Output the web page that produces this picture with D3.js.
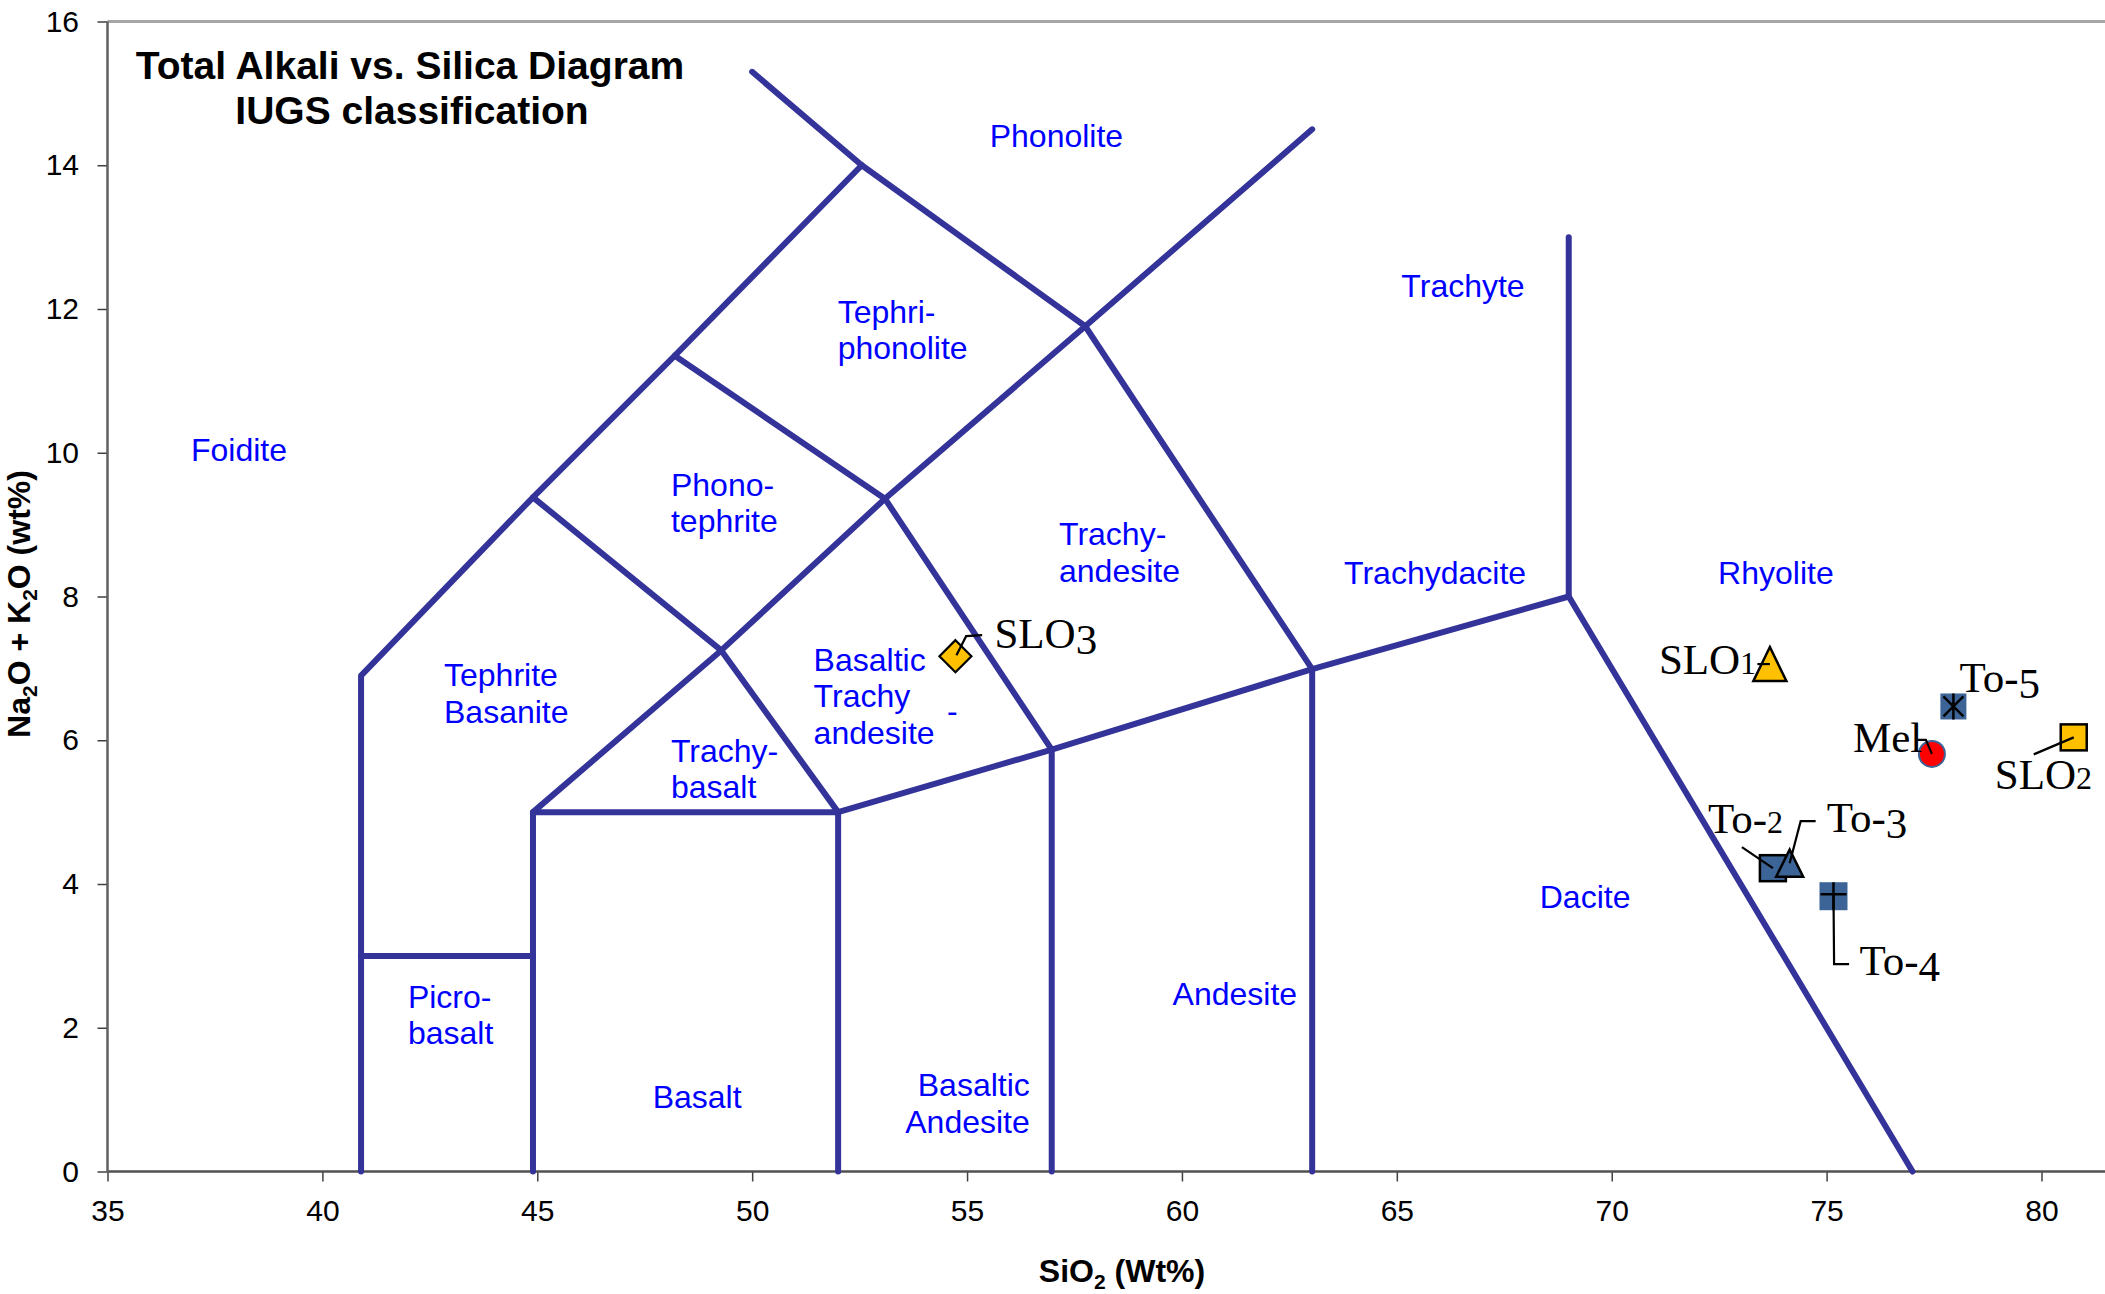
<!DOCTYPE html>
<html>
<head>
<meta charset="utf-8">
<script src="https://cdn.jsdelivr.net/npm/d3@7/dist/d3.min.js"></script>
<style>
  html, body { margin: 0; padding: 0; background: #fff; }
  svg { display: block; }
</style>
</head>
<body>
<svg id="chart" width="2105" height="1294"></svg>
<script>
// ---------------- DATA ----------------
const xTicks = [35, 40, 45, 50, 55, 60, 65, 70, 75, 80];
const yTicks = [0, 2, 4, 6, 8, 10, 12, 14, 16];

// TAS classification boundaries (SiO2, Na2O+K2O)
const boundaries = [
  [[40.9, 0], [40.9, 6.9], [44.9, 9.38], [48.2, 11.35], [52.55, 14.0]],
  [[40.9, 3], [44.9, 3]],
  [[44.9, 0], [44.9, 5], [52, 5], [52, 0]],
  [[52, 5], [56.97, 5.87], [63.03, 6.99], [69, 8], [77, 0]],
  [[69, 8], [69, 13]],
  [[56.97, 0], [56.97, 5.87]],
  [[63.03, 0], [63.03, 6.99]],
  [[44.9, 5], [49.28, 7.25], [53.09, 9.36], [57.75, 11.76], [63.03, 14.5]],
  [[44.9, 9.38], [49.28, 7.25], [52, 5]],
  [[48.2, 11.35], [53.09, 9.36], [56.97, 5.87]],
  [[50, 15.3], [52.55, 14.0], [57.75, 11.76], [63.03, 6.99]]
];

// Field names and their anchor (SiO2, alkali)
const fieldNames = [
  ["Phonolite"], ["Tephri-", "phonolite"], ["Foidite"], ["Phono-", "tephrite"],
  ["Trachy-", "andesite"], ["Trachyte"], ["Trachydacite"], ["Rhyolite"],
  ["Tephrite", "Basanite"], ["Basaltic", "Trachy", "andesite"], ["-"],
  ["Trachy-", "basalt"], ["Dacite"], ["Andesite"], ["Picro-", "basalt"],
  ["Basaltic", "Andesite"], ["Basalt"]
];
const fieldX = [57.08, 51.99, 38.06, 48.11, 57.14, 66.54, 65.89, 73.82, 42.83, 51.43, 54.66, 48.11, 69.38, 61.23, 41.99, 56.46, 48.72];
const fieldY = [14.25, 11.81, 9.89, 9.40, 8.71, 12.17, 8.17, 8.17, 6.75, 6.97, 6.26, 5.70, 3.67, 2.32, 2.28, 1.05, 0.88];
const fieldAnchor = ["middle", "start", "middle", "start", "start", "middle", "middle", "middle", "start", "start", "middle", "start", "middle", "middle", "start", "end", "middle"];

// Samples
const sampleNames = ["SLO3", "SLO1", "SLO2", "Mel", "To-2", "To-3", "To-4", "To-5"];
const sio2 = [54.73, 73.68, 80.75, 77.45, 73.75, 74.14, 75.16, 77.95];
const alkali = [7.17, 7.06, 6.04, 5.81, 4.22, 4.29, 3.83, 6.47];
const symbols = ["diamond", "triangle", "square", "circle", "square", "triangle", "squarePlus", "squareStar"];
const groups = ["SLO", "SLO", "SLO", "Mel", "To", "To", "To", "To"];

// ---------------- LAYOUT / STYLE ----------------
const W = 2105, H = 1294;
const x = d3.scaleLinear().domain([35, 80]).range([107.5, 2041.5]);
const y = d3.scaleLinear().domain([0, 16]).range([1171.5, 21.5]);
const lineColor = "#333399";
const orange = "#FFC000", blue = "#3C6496";
const fillOf = { SLO: orange, Mel: "#FF0000", To: blue };

// label offsets (px) and leader polylines relative to marker centre
const labelLayout = {
  "SLO3": { dx: 39, dy: -8, leader: [[1, -1], [10.7, -20], [26.7, -21]] },
  "SLO1": { dx: -111, dy: 10, leader: [[-12.5, 0], [0, 0]] },
  "SLO2": { dx: -79, dy: 52, leader: [[-40, 17], [0, 0]] },
  "Mel":  { dx: -79, dy: -2, leader: [[-16, -14], [-6, -14], [0, 0]] },
  "To-2": { dx: -65, dy: -35, leader: [[-31, -21], [0, 0]] },
  "To-3": { dx: 37, dy: -31, leader: [[0, 0], [11, -42], [26, -42]] },
  "To-4": { dx: 26, dy: 79, leader: [[0, -2], [0.6, 68], [15.6, 68]] },
  "To-5": { dx: 6, dy: -14, leader: [] }
};

const svg = d3.select("#chart");
svg.append("rect").attr("width", W).attr("height", H).attr("fill", "#fff");

// plot frame (top border)
svg.append("line")
  .attr("x1", x(35)).attr("x2", W).attr("y1", y(16)).attr("y2", y(16))
  .attr("stroke", "#a6a6a6").attr("stroke-width", 3);

// axes
const axisFont = "'Liberation Sans', Arial, sans-serif";
const gx = svg.append("g").attr("transform", `translate(0,${y(0)})`)
  .call(d3.axisBottom(x).tickValues(xTicks).tickSize(10).tickPadding(17.7).tickSizeOuter(0));
const gy = svg.append("g").attr("transform", `translate(${x(35)},0)`)
  .call(d3.axisLeft(y).tickValues(yTicks).tickSize(10).tickPadding(18.5).tickSizeOuter(0));
[gx, gy].forEach(g => {
  g.select(".domain").remove();
  g.selectAll(".tick line").attr("stroke", "#404040").attr("stroke-width", 1.5);
  g.selectAll(".tick text").attr("fill", "#000").style("font-family", axisFont).style("font-size", "30px");
});
svg.append("line").attr("x1", x(35)).attr("x2", W).attr("y1", y(0)).attr("y2", y(0))
  .attr("stroke", "#505050").attr("stroke-width", 2.5);
svg.append("line").attr("x1", x(35)).attr("x2", x(35)).attr("y1", y(16)).attr("y2", y(0))
  .attr("stroke", "#606060").attr("stroke-width", 2.5);

// axis titles
const xt = svg.append("text").attr("x", 1122).attr("y", 1282).attr("text-anchor", "middle")
  .style("font-family", axisFont).style("font-size", "32px").style("font-weight", "bold");
xt.append("tspan").text("SiO");
xt.append("tspan").text("2").attr("dy", 7).style("font-size", "21px");
xt.append("tspan").text(" (Wt%)").attr("dy", -7);

const yt = svg.append("text").attr("transform", "translate(30,604) rotate(-90)").attr("text-anchor", "middle")
  .style("font-family", axisFont).style("font-size", "32px").style("font-weight", "bold");
yt.append("tspan").text("Na");
yt.append("tspan").text("2").attr("dy", 7).style("font-size", "21px");
yt.append("tspan").text("O + K").attr("dy", -7);
yt.append("tspan").text("2").attr("dy", 7).style("font-size", "21px");
yt.append("tspan").text("O (wt%)").attr("dy", -7);

// chart title
const title = svg.append("text").attr("text-anchor", "middle")
  .style("font-family", axisFont).style("font-size", "39px").style("font-weight", "bold").attr("fill", "#000");
title.append("tspan").attr("x", 410).attr("y", 79).text("Total Alkali vs. Silica Diagram");
title.append("tspan").attr("x", 412).attr("y", 124).text("IUGS classification");

// boundaries
const lineGen = d3.line().x(d => x(d[0])).y(d => y(d[1]));
svg.append("g").selectAll("path").data(boundaries).join("path")
  .attr("d", lineGen).attr("fill", "none").attr("stroke", lineColor)
  .attr("stroke-width", 6).attr("stroke-linejoin", "round").attr("stroke-linecap", "round");

// field names
const fg = svg.append("g").style("font-family", axisFont).style("font-size", "32px").attr("fill", "#0000FF");
fieldNames.forEach((lines, i) => {
  const t = fg.append("text").attr("text-anchor", fieldAnchor[i]);
  lines.forEach((ln, j) => {
    t.append("tspan").attr("x", x(fieldX[i])).attr("y", y(fieldY[i]) + j * 36.5).text(ln);
  });
});

// markers
const mg = svg.append("g");
sampleNames.forEach((name, i) => {
  const cx = x(sio2[i]), cy = y(alkali[i]);
  const fill = fillOf[groups[i]];
  const g = mg.append("g").attr("transform", `translate(${cx},${cy})`);
  const s = symbols[i];
  if (s === "diamond") {
    g.append("path").attr("d", "M0,-16L16,0L0,16L-16,0Z").attr("fill", fill).attr("stroke", "#000").attr("stroke-width", 2.2);
  } else if (s === "triangle") {
    const hw = name === "SLO1" ? 16.5 : 13.5, hh = name === "SLO1" ? 17 : 13.5;
    g.append("path").attr("d", `M0,${-hh}L${hw},${hh}L${-hw},${hh}Z`).attr("fill", fill).attr("stroke", "#000").attr("stroke-width", 2.5).attr("stroke-linejoin", "miter");
  } else if (s === "square") {
    g.append("rect").attr("x", -13).attr("y", -13).attr("width", 26).attr("height", 26)
      .attr("fill", fill).attr("stroke", "#000").attr("stroke-width", 2.5);
  } else if (s === "circle") {
    g.append("circle").attr("r", 13).attr("fill", fill).attr("stroke", blue).attr("stroke-width", 2);
  } else if (s === "squarePlus") {
    g.append("rect").attr("x", -14).attr("y", -14).attr("width", 28).attr("height", 28).attr("fill", fill);
    g.append("path").attr("d", "M-13,-2H13M0,-14V14").attr("stroke", "#000").attr("stroke-width", 2.5);
  } else if (s === "squareStar") {
    g.append("rect").attr("x", -13).attr("y", -13).attr("width", 26).attr("height", 26).attr("fill", fill);
    g.append("path").attr("d", "M-10,-10L10,10M10,-10L-10,10M0,-13V13").attr("stroke", "#000").attr("stroke-width", 2.5);
  }
});

// leaders + labels
const lg = svg.append("g");
const serif = "'Liberation Serif', 'Times New Roman', serif";
sampleNames.forEach((name, i) => {
  const cx = x(sio2[i]), cy = y(alkali[i]);
  const L = labelLayout[name];
  if (L.leader.length > 1) {
    lg.append("path").attr("d", d3.line()(L.leader.map(p => [cx + p[0], cy + p[1]])))
      .attr("fill", "none").attr("stroke", "#000").attr("stroke-width", 2.2);
  }
  const t = lg.append("text").attr("x", cx + L.dx).attr("y", cy + L.dy)
    .style("font-family", serif).style("font-size", "43px").attr("fill", "#000");
  // old-style figures imitation
  const m = name.match(/^(.*?)(\d)$/);
  if (!m) {
    t.text(name);
    return;
  }
  t.append("tspan").text(m[1]);
  const dig = m[2];
  if ("012".includes(dig)) {
    t.append("tspan").text(dig).style("font-size", "32px");
  } else {
    t.append("tspan").text(dig).attr("dy", 6);
  }
});
</script>
</body>
</html>
